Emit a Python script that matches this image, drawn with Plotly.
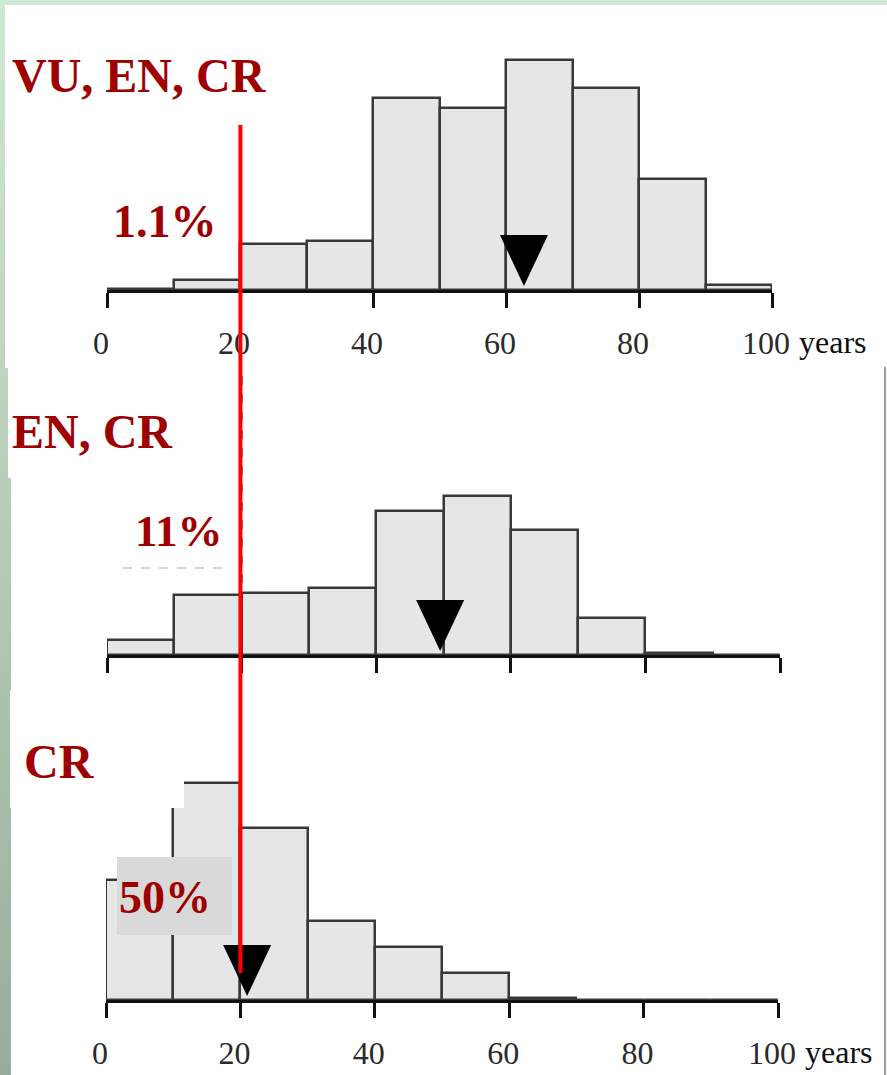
import plotly.graph_objects as go

# ---------------- data ----------------
bin_starts = [0, 10, 20, 30, 40, 50, 60, 70, 80, 90]
bin_width = 10
top_pct = [0.1, 1.0, 4.5, 4.8, 18.6, 17.7, 22.3, 19.6, 10.8, 0.5]   # VU, EN, CR
mid_pct = [2.2, 8.9, 9.2, 10.0, 21.5, 23.7, 18.6, 5.5, 0.3, 0.0]    # EN, CR
bot_pct = [17.9, 32.4, 25.7, 11.8, 7.9, 4.0, 0.3, 0.0, 0.0, 0.0]    # CR
medians = [62.7, 49.5, 21.0]
panel_labels = ["VU, EN, CR", "EN, CR", "CR"]
share_labels = ["1.1%", "11%", "50%"]
tick_vals = [0, 20, 40, 60, 80, 100]
tick_text = ["0", "20", "40", "60", "80", "100"]
threshold = 20
unit_label = "years"

# ---------------- layout helpers ----------------
W, H = 887, 1075
def px(x):
    return x / W
def py(y):
    return 1 - y / H

# panel geometry in pixels: x0, x1 (0..100 years), baseline, top, y max (percent)
panels = [
    dict(x0=107, x1=772, base=290, top=40, ymax=250 / 10.31),
    dict(x0=107, x1=780, base=655, top=470, ymax=185 / 6.71),
    dict(x0=106, x1=778, base=1000, top=770, ymax=230 / 6.70),
]
series = [top_pct, mid_pct, bot_pct]

LABEL_RED = "#9E0000"
SERIF = "Liberation Serif, Times New Roman, serif"

fig = go.Figure()
centers = [s + bin_width / 2 for s in bin_starts]

for i, (p, vals) in enumerate(zip(panels, series)):
    n = "" if i == 0 else str(i + 1)
    fig.add_trace(go.Bar(
        x=centers, y=vals, width=bin_width,
        marker=dict(color="#E6E6E6", line=dict(color="#383838", width=2.5)),
        xaxis="x" + n, yaxis="y" + n, showlegend=False, hoverinfo="skip",
    ))
    # median arrow (triangle) computed in data units
    ppy = (p["x1"] - p["x0"]) / 100.0
    ppp = (p["base"] - p["top"]) / p["ymax"]
    half = 24 / ppy
    tip = 4 / ppp
    topy = 55 / ppp
    m = medians[i]
    fig.add_trace(go.Scatter(
        x=[m - half, m + half, m, m - half], y=[topy, topy, tip, topy],
        mode="lines", fill="toself", fillcolor="black",
        line=dict(color="black", width=0),
        xaxis="x" + n, yaxis="y" + n, showlegend=False, hoverinfo="skip",
    ))

layout = dict(
    width=W, height=H, autosize=False, margin=dict(l=0, r=0, t=0, b=0, pad=0),
    paper_bgcolor="white", plot_bgcolor="rgba(0,0,0,0)",
    bargap=0, showlegend=False,
)
for i, p in enumerate(panels):
    n = "" if i == 0 else str(i + 1)
    layout["xaxis" + n] = dict(
        domain=[px(p["x0"]), px(p["x1"])], range=[0, 100],
        anchor="y" + n, showgrid=False, zeroline=False, automargin=False,
        showline=True, linewidth=3, linecolor="#111111",
        ticks="outside", ticklen=15, tickwidth=2.5, tickcolor="#111111",
        tickvals=tick_vals, ticktext=tick_text,
        showticklabels=(i != 1),
        tickfont=dict(family=SERIF, size=32, color="#2a2a2a"),
        ticklabelstandoff=8, ticklabelshift=-6,
        fixedrange=True,
    )
    layout["yaxis" + n] = dict(
        domain=[py(p["base"]), py(p["top"])], range=[0, p["ymax"]],
        anchor="x" + n, visible=False, showgrid=False, zeroline=False,
        automargin=False, fixedrange=True,
    )
fig.update_layout(**layout)

shapes = []
# top light-green strip
shapes.append(dict(type="rect", xref="paper", yref="paper", x0=0, x1=1,
                   y0=py(5), y1=1, fillcolor="#D0E9D5", line=dict(width=0), layer="below"))
# left green gradient strip
segments = [(0, 368, 5), (368, 478, 8), (478, 690, 11), (690, 808, 10), (808, 1075, 11)]
c_top = (0xCF, 0xE8, 0xD3)
c_bot = (0x98, 0xAE, 0x9C)
step = 15
for (ya, yb, w) in segments:
    y = ya
    while y < yb:
        y2 = min(y + step, yb)
        t = ((y + y2) / 2) / H
        col = "rgb(%d,%d,%d)" % tuple(round(a + (b - a) * t) for a, b in zip(c_top, c_bot))
        shapes.append(dict(type="rect", xref="paper", yref="paper",
                           x0=0, x1=px(w), y0=py(y2), y1=py(y),
                           fillcolor=col, line=dict(width=0), layer="below"))
        y = y2
# right thin border line of the lower picture
shapes.append(dict(type="line", xref="paper", yref="paper", x0=px(885), x1=px(885),
                   y0=0, y1=py(367), line=dict(color="#777777", width=1.5)))
# dashed 20-year lines of the original figures
shapes.append(dict(type="line", xref="x", yref="paper", x0=threshold, x1=threshold,
                   y0=py(panels[0]["base"]), y1=py(125),
                   line=dict(color="#333333", width=2, dash="dash")))
shapes.append(dict(type="line", xref="x2", yref="paper", x0=threshold, x1=threshold,
                   y0=py(panels[1]["base"]), y1=py(370),
                   line=dict(color="#333333", width=2, dash="dash")))
# white label box covering the CR histogram corner
shapes.append(dict(type="rect", xref="paper", yref="paper", x0=px(10), x1=px(184),
                   y0=py(808), y1=py(690), fillcolor="white", line=dict(width=0), layer="above"))
# grey box behind 50%
shapes.append(dict(type="rect", xref="paper", yref="paper", x0=px(117), x1=px(232),
                   y0=py(935), y1=py(857), fillcolor="#D9D9D9", line=dict(width=0), layer="above"))
# faint dashed edge under 11%
shapes.append(dict(type="line", xref="paper", yref="paper", x0=px(123), x1=px(222),
                   y0=py(568), y1=py(568), line=dict(color="#C8C8C8", width=1.5, dash="dash")))
# red threshold line
shapes.append(dict(type="line", xref="x3", yref="paper", x0=threshold, x1=threshold,
                   y0=py(973), y1=py(125), line=dict(color="#FF0000", width=4), layer="above"))
fig.update_layout(shapes=shapes)

ann = []
label_pos = [(10, 76), (10, 431), (22, 761)]
for (x, y), t in zip(label_pos, panel_labels):
    ann.append(dict(text=t, xref="paper", yref="paper", x=px(x), y=py(y),
                    xanchor="left", yanchor="middle", showarrow=False,
                    font=dict(family=SERIF, size=48, color=LABEL_RED, weight="bold")))
share_pos = [(165, 221, 46), (179, 531, 45), (164.5, 897, 46)]
for (x, y, s), t in zip(share_pos, share_labels):
    ann.append(dict(text=t, xref="paper", yref="paper", x=px(x), y=py(y),
                    xanchor="center", yanchor="middle", showarrow=False,
                    font=dict(family=SERIF, size=s, color=LABEL_RED, weight="bold")))
for i in (0, 2):
    n = "" if i == 0 else str(i + 1)
    p = panels[i]
    ann.append(dict(text=unit_label, xref="x" + n, yref="paper", x=100,
                    y=py(p["base"] + 52), xanchor="left", yanchor="middle",
                    xshift=25, showarrow=False,
                    font=dict(family=SERIF, size=32, color="#111111")))
fig.update_layout(annotations=ann)

fig.write_html(
    "out.html",
    config={"responsive": False, "displayModeBar": False},
    post_script="document.body.style.margin='0';document.body.style.overflow='hidden';",
)
